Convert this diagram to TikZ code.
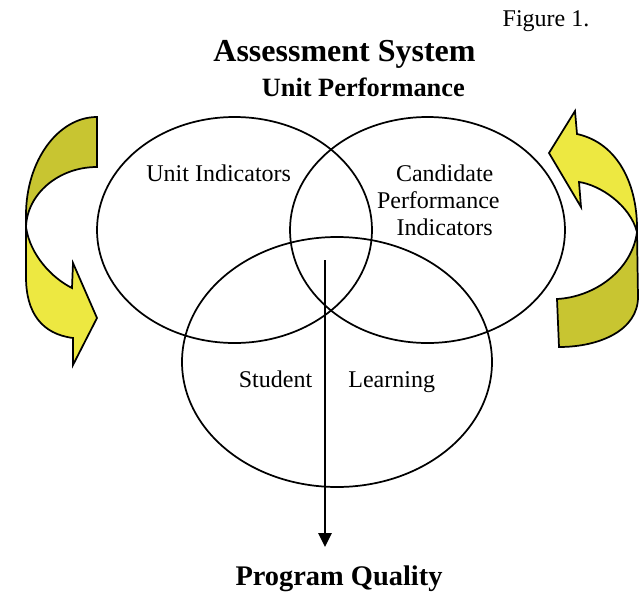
\documentclass[tikz,border=0pt]{standalone}
\usepackage{fontspec}
\setmainfont{Liberation Serif}
\usetikzlibrary{arrows.meta}
\definecolor{ribdark}{RGB}{200,197,49}
\definecolor{riblight}{RGB}{237,232,65}
\tikzset{
  ring/.style={draw=black,line width=1.3pt},
  ribbon/.style={draw=black,line width=1.3pt,line join=miter},
  lbl/.style={inner sep=0pt,anchor=base,font=\fontsize{18}{20}\selectfont},
  titlelbl/.style={inner sep=0pt,anchor=base,font=\fontsize{24}{28}\selectfont\bfseries},
  sublbl/.style={inner sep=0pt,anchor=base,font=\fontsize{19.8}{24}\selectfont\bfseries},
  pqlbl/.style={inner sep=0pt,anchor=base,font=\fontsize{21.3}{25}\selectfont\bfseries},
  flow/.style={line width=1.3pt,-{Triangle[width=10pt,length=10.5pt]}}
}
\begin{document}
\begin{tikzpicture}[x=0.75pt,y=-0.75pt]
\useasboundingbox (0,0) rectangle (643,593);

% circles
\coordinate (cUnit) at (234.5,230);
\coordinate (cCand) at (427.5,230);
\coordinate (cStud) at (337,362);
\draw[ring] (cUnit) ellipse (137.5 and 113);
\draw[ring] (cCand) ellipse (137.5 and 113);
\draw[ring] (cStud) ellipse (155 and 125);

% left twisted arrow
\draw[ribbon,fill=ribdark] (97,117) -- (97,167)
  .. controls (58.5,167) and (27,194) .. (26,227)
  -- (26,215) .. controls (26,161) and (58,117) .. cycle;
\draw[ribbon,fill=riblight] (26,227) -- (26,277)
  .. controls (26,313) and (42,334) .. (73,338)
  -- (73,365) -- (97,318) -- (73,263) -- (72,288)
  .. controls (52,278) and (30,255) .. cycle;

% right twisted arrow
\draw[ribbon,fill=riblight] (577,134) -- (575,111) -- (549,153) -- (581,207) -- (579,182)
  .. controls (600,185) and (630,205) .. (637,232)
  .. controls (638,185) and (618,143) .. cycle;
\draw[ribbon,fill=ribdark] (637,232) -- (638,297)
  .. controls (638,330) and (600,347) .. (559,347)
  -- (557,299) .. controls (595,297) and (632,270) .. cycle;

% texts
\node[lbl] (fig) at (546,26.7) {Figure 1.};
\node[titlelbl] (title) at (344.5,61.7) {Assessment System};
\node[sublbl] (sub) at (363.3,96.7) {Unit Performance};
\node[lbl] (ui) at (218.7,181) {Unit Indicators};
\node[lbl] (cp1) at (444.7,181) {Candidate};
\node[lbl] (cp2) at (438.3,208.3) {Performance};
\node[lbl] (cp3) at (444.7,235) {Indicators};
\node[lbl] (stu) at (275.5,387) {Student};
\node[lbl] (lea) at (391.7,387) {Learning};
\node[pqlbl] (pq) at (339,585) {Program Quality};

% central arrow
\coordinate (core) at (325,260);
\coordinate (pqtop) at (325,547);
\draw[flow] (core) -- (pqtop);
\end{tikzpicture}
\end{document}
